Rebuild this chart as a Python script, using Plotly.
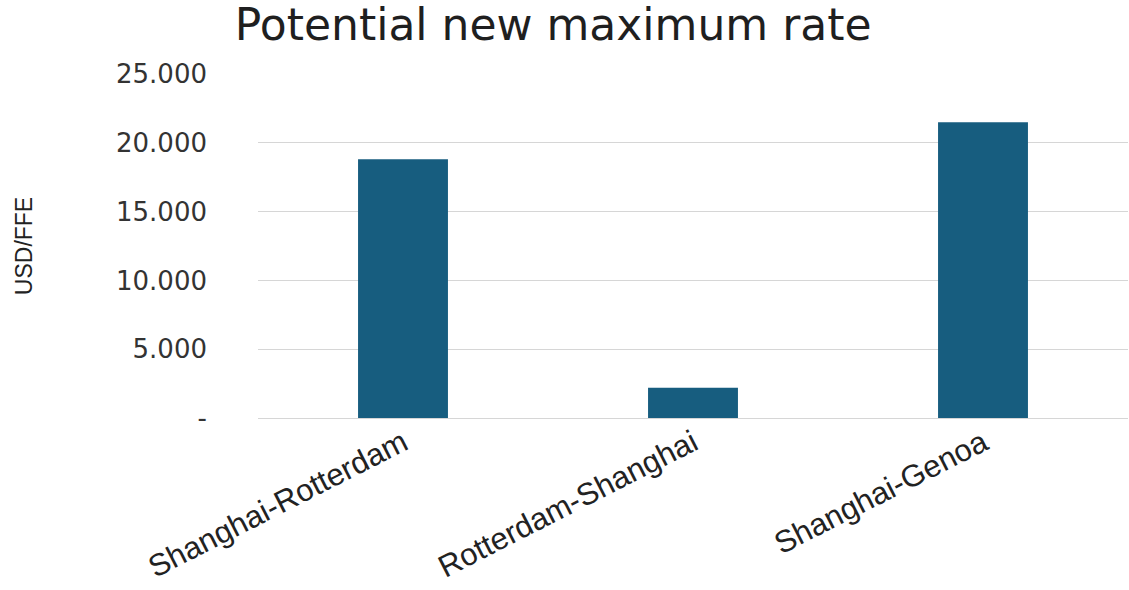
import plotly.graph_objects as go

categories = ["Shanghai-Rotterdam", "Rotterdam-Shanghai", "Shanghai-Genoa"]
values = [18800, 2200, 21500]
tick_vals = [0, 5000, 10000, 15000, 20000, 25000]
tick_text = ["-", "5.000", "10.000", "15.000", "20.000", "25.000"]

fig = go.Figure(go.Bar(
    x=categories, y=values,
    marker=dict(color="#175d7f", line=dict(width=0)),
))

fig.update_layout(
    width=1129, height=590,
    margin=dict(l=258, r=1, t=74, b=172),
    paper_bgcolor="white", plot_bgcolor="white",
    bargap=0.69,
    showlegend=False,
    title=dict(
        text="Potential new maximum rate",
        x=0.49, xanchor="center", xref="container",
        y=1 - 25 / 590, yanchor="middle", yref="container",
        font=dict(family="DejaVu Sans", size=44, color="#1f1f1f"),
    ),
    xaxis=dict(
        tickangle=-27,
        tickfont=dict(family="Liberation Sans", size=31, color="#222222"),
        showgrid=False, showline=False, ticks="",
    ),
    yaxis=dict(
        range=[0, 25000],
        tickvals=tick_vals, ticktext=tick_text,
        tickfont=dict(family="DejaVu Sans", size=26, color="#333333"),
        ticklabelstandoff=50,
        showgrid=True, gridcolor="#d6d6d6", gridwidth=1,
        zeroline=True, zerolinecolor="#d6d6d6", zerolinewidth=1,
        showline=False, ticks="",
        title=dict(
            text="USD/FFE",
            font=dict(family="Liberation Sans Narrow, Liberation Sans", size=23, color="#222222"),
            standoff=76,
        ),
    ),
)

fig.write_html("out.html")
